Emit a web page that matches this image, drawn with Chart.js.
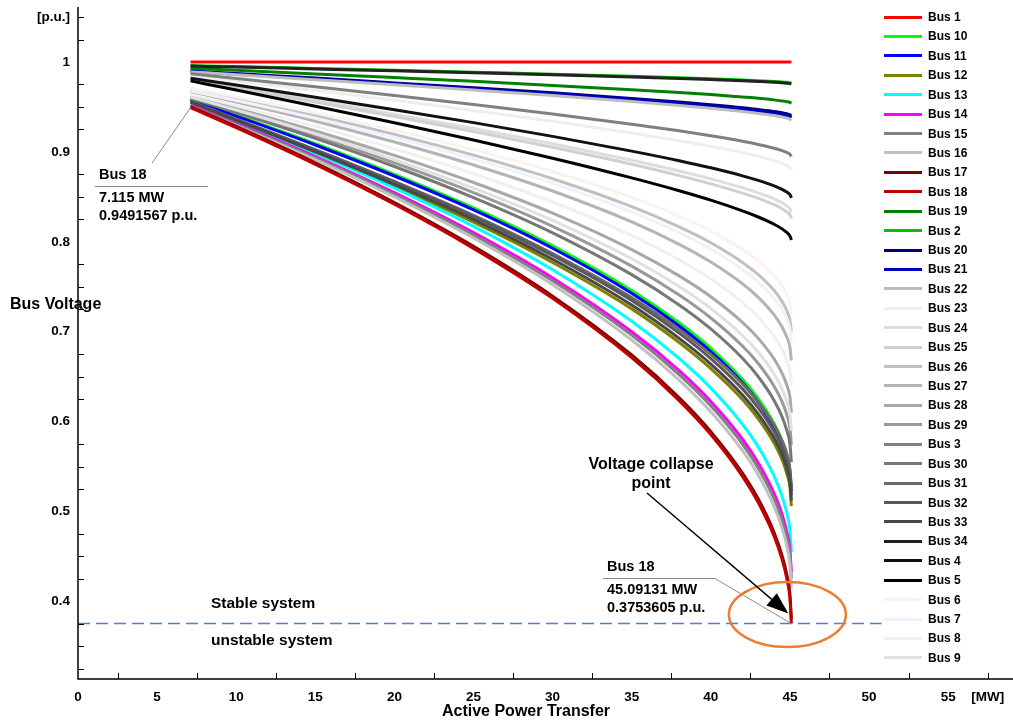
<!DOCTYPE html>
<html>
<head>
<meta charset="utf-8">
<title>Bus voltage vs active power transfer</title>
<script src="https://cdn.jsdelivr.net/npm/chart.js@4.4.1/dist/chart.umd.min.js"></script>
<style>
  html, body { margin: 0; padding: 0; background: #fff; }
  #wrap { position: relative; width: 1013px; height: 724px; font-family: 'Liberation Sans', Arial, sans-serif; }
  #legend { position: absolute; left: 0; top: 0; width: 0; height: 0; }
  .leg { position: absolute; left: 884px; height: 18px; display: flex; align-items: center;
         font-weight: bold; font-size: 12px; color: #000; white-space: nowrap; }
  .leg-line { width: 38px; height: 3px; margin-right: 6px; }
</style>
</head>
<body>
<div id="wrap">
  <canvas id="pv" width="1013" height="724"></canvas>
  <div id="legend"></div>
</div>
<script>
// load steps of the continuation run (MW)
var loads = [7.115, 10, 15, 20, 25, 30, 35, 38, 40, 42, 43, 44, 44.5, 44.8, 45, 45.09131];

// bus voltages (p.u.)
var bus1  = [1, 1, 1, 1, 1, 1, 1, 1, 1, 1, 1, 1, 1, 1, 1, 1];
var bus2  = [0.996, 0.9949, 0.9929, 0.9909, 0.9887, 0.9865, 0.9841, 0.9825, 0.9814, 0.9801, 0.9793, 0.9784, 0.9779, 0.9774, 0.977, 0.9765];
var bus3  = [0.987, 0.9817, 0.9724, 0.9628, 0.9528, 0.9423, 0.9309, 0.9235, 0.918, 0.9119, 0.9083, 0.9041, 0.9015, 0.8994, 0.8974, 0.895];
var bus4  = [0.982, 0.9744, 0.9609, 0.947, 0.9326, 0.9173, 0.9009, 0.8902, 0.8823, 0.8734, 0.8683, 0.8622, 0.8583, 0.8553, 0.8524, 0.849];
var bus5  = [0.979, 0.9688, 0.9509, 0.9324, 0.9132, 0.893, 0.8711, 0.8568, 0.8463, 0.8344, 0.8276, 0.8195, 0.8144, 0.8104, 0.8065, 0.802];
var bus6  = [0.971, 0.9613, 0.9434, 0.924, 0.9026, 0.8782, 0.8494, 0.8285, 0.8119, 0.7916, 0.7789, 0.7625, 0.7513, 0.742, 0.7323, 0.72];
var bus7  = [0.968, 0.9572, 0.9375, 0.916, 0.8922, 0.8652, 0.8333, 0.8101, 0.7918, 0.7693, 0.7552, 0.7371, 0.7247, 0.7143, 0.7036, 0.69];
var bus8  = [0.964, 0.9515, 0.9284, 0.9034, 0.8757, 0.8443, 0.807, 0.78, 0.7586, 0.7324, 0.716, 0.6949, 0.6804, 0.6684, 0.6559, 0.64];
var bus9  = [0.961, 0.9466, 0.9202, 0.8915, 0.8598, 0.8239, 0.7812, 0.7503, 0.7258, 0.6958, 0.6771, 0.6529, 0.6363, 0.6225, 0.6082, 0.59];
var bus10 = [0.9585, 0.9408, 0.9092, 0.8751, 0.8379, 0.7956, 0.7459, 0.7099, 0.6815, 0.647, 0.6254, 0.5978, 0.579, 0.5632, 0.5468, 0.526];
var bus11 = [0.958, 0.9399, 0.9077, 0.8732, 0.8355, 0.7928, 0.7427, 0.7064, 0.6778, 0.6432, 0.6215, 0.5939, 0.575, 0.5592, 0.5429, 0.522];
var bus12 = [0.955, 0.934, 0.8985, 0.8614, 0.8218, 0.777, 0.7254, 0.688, 0.659, 0.6245, 0.603, 0.5761, 0.5578, 0.5423, 0.5266, 0.506];
var bus13 = [0.953, 0.9337, 0.8983, 0.8598, 0.8172, 0.7689, 0.7117, 0.6702, 0.6373, 0.5971, 0.5719, 0.5394, 0.5171, 0.4986, 0.4794, 0.455];
var bus14 = [0.952, 0.9318, 0.8949, 0.8547, 0.8102, 0.7598, 0.7, 0.6567, 0.6224, 0.5804, 0.554, 0.5201, 0.4969, 0.4775, 0.4575, 0.432];
var bus15 = [0.951, 0.9307, 0.8933, 0.8526, 0.8076, 0.7566, 0.6962, 0.6523, 0.6176, 0.5751, 0.5484, 0.5142, 0.4906, 0.4711, 0.4508, 0.425];
var bus16 = [0.95, 0.9293, 0.8913, 0.8499, 0.8042, 0.7523, 0.6908, 0.6462, 0.6109, 0.5676, 0.5406, 0.5057, 0.4818, 0.4618, 0.4412, 0.415];
var bus17 = [0.9505, 0.9284, 0.8879, 0.8437, 0.795, 0.7396, 0.6741, 0.6265, 0.5889, 0.5428, 0.5139, 0.4767, 0.4512, 0.43, 0.408, 0.38];
var bus18 = [0.9491567, 0.927, 0.8862, 0.8418, 0.7927, 0.7371, 0.6711, 0.6233, 0.5855, 0.5391, 0.51, 0.4726, 0.447, 0.4256, 0.4035, 0.3753605];
var bus19 = [0.993, 0.9908, 0.9868, 0.9827, 0.9785, 0.974, 0.9692, 0.9661, 0.9638, 0.9611, 0.9597, 0.9579, 0.9567, 0.9559, 0.955, 0.954];
var bus20 = [0.99, 0.9871, 0.9821, 0.9768, 0.9714, 0.9657, 0.9595, 0.9555, 0.9525, 0.9492, 0.9472, 0.945, 0.9435, 0.9424, 0.9413, 0.94];
var bus21 = [0.9895, 0.9865, 0.9813, 0.9759, 0.9704, 0.9645, 0.9581, 0.9539, 0.9509, 0.9474, 0.9455, 0.9431, 0.9416, 0.9405, 0.9393, 0.938];
var bus22 = [0.989, 0.9859, 0.9804, 0.9748, 0.9689, 0.9628, 0.9561, 0.9517, 0.9485, 0.9449, 0.9428, 0.9404, 0.9388, 0.9376, 0.9364, 0.935];
var bus23 = [0.985, 0.979, 0.9683, 0.9574, 0.946, 0.934, 0.921, 0.9125, 0.9063, 0.8992, 0.8952, 0.8904, 0.8874, 0.885, 0.8827, 0.88];
var bus24 = [0.981, 0.9725, 0.9575, 0.942, 0.926, 0.9091, 0.8908, 0.8788, 0.87, 0.8601, 0.8544, 0.8477, 0.8434, 0.84, 0.8368, 0.833];
var bus25 = [0.98, 0.9712, 0.9556, 0.9395, 0.9227, 0.9051, 0.8862, 0.8736, 0.8645, 0.8542, 0.8483, 0.8413, 0.8368, 0.8333, 0.83, 0.826];
var bus26 = [0.97, 0.9595, 0.9403, 0.9195, 0.8964, 0.8702, 0.8392, 0.8167, 0.7989, 0.777, 0.7634, 0.7458, 0.7337, 0.7236, 0.7132, 0.7];
var bus27 = [0.967, 0.9554, 0.9342, 0.911, 0.8855, 0.8565, 0.8221, 0.7972, 0.7775, 0.7533, 0.7382, 0.7187, 0.7053, 0.6942, 0.6827, 0.668];
var bus28 = [0.962, 0.9484, 0.9233, 0.8961, 0.866, 0.8319, 0.7914, 0.7621, 0.7389, 0.7104, 0.6926, 0.6697, 0.6539, 0.6408, 0.6273, 0.61];
var bus29 = [0.96, 0.9451, 0.9176, 0.8878, 0.8548, 0.8173, 0.773, 0.7408, 0.7153, 0.6841, 0.6646, 0.6394, 0.6222, 0.6078, 0.5929, 0.574];
var bus30 = [0.9595, 0.9438, 0.9151, 0.8838, 0.8492, 0.81, 0.7635, 0.7298, 0.7031, 0.6704, 0.6499, 0.6236, 0.6055, 0.5904, 0.5748, 0.555];
var bus31 = [0.9565, 0.9364, 0.9025, 0.8671, 0.8294, 0.7869, 0.7379, 0.7023, 0.6748, 0.6421, 0.6217, 0.5963, 0.579, 0.5643, 0.546, 0.525];
var bus32 = [0.956, 0.9361, 0.9021, 0.8664, 0.8281, 0.7848, 0.7347, 0.6984, 0.6701, 0.6364, 0.6153, 0.5889, 0.5709, 0.5557, 0.54, 0.518];
var bus33 = [0.9555, 0.935, 0.9002, 0.8637, 0.8247, 0.7806, 0.7296, 0.6926, 0.664, 0.6297, 0.6084, 0.5817, 0.5635, 0.5481, 0.5324, 0.512];
var bus34 = [0.9955, 0.9944, 0.9923, 0.9902, 0.9881, 0.9858, 0.9833, 0.9817, 0.9805, 0.9792, 0.9784, 0.9775, 0.9769, 0.9764, 0.976, 0.9755];

// legend order (as plotted)
var busNames = ['Bus 1', 'Bus 10', 'Bus 11', 'Bus 12', 'Bus 13', 'Bus 14', 'Bus 15', 'Bus 16', 'Bus 17',
  'Bus 18', 'Bus 19', 'Bus 2', 'Bus 20', 'Bus 21', 'Bus 22', 'Bus 23', 'Bus 24', 'Bus 25', 'Bus 26',
  'Bus 27', 'Bus 28', 'Bus 29', 'Bus 3', 'Bus 30', 'Bus 31', 'Bus 32', 'Bus 33', 'Bus 34', 'Bus 4',
  'Bus 5', 'Bus 6', 'Bus 7', 'Bus 8', 'Bus 9'];
var busSeries = [bus1, bus10, bus11, bus12, bus13, bus14, bus15, bus16, bus17,
  bus18, bus19, bus2, bus20, bus21, bus22, bus23, bus24, bus25, bus26,
  bus27, bus28, bus29, bus3, bus30, bus31, bus32, bus33, bus34, bus4,
  bus5, bus6, bus7, bus8, bus9];
var busColors = ['#ff0000', '#00ff00', '#0000ff', '#808000', '#00ffff', '#ff00ff', '#808080', '#c0c0c0', '#800000',
  '#c00000', '#008000', '#00c000', '#000080', '#0000c0', '#bdbdbd', '#eeeeee', '#dddddd', '#d0d0d0', '#c0c0c0',
  '#b4b4b4', '#a8a8a8', '#999999', '#808080', '#777777', '#6a6a6a', '#5a5a5a', '#484848', '#222222', '#111111',
  '#000000', '#fff0f0', '#f0f0ff', '#f0f0f0', '#e0e0e0'];

// stability limit line
var limitVoltage = 0.3753605;
var limitSpan = [0, 50.8];

// axis ticks
var xLabelTicks = [0, 5, 10, 15, 20, 25, 30, 35, 40, 45, 50, 55, 57.5];
var yLabelTicks = [0.4, 0.5, 0.6, 0.7, 0.8, 0.9, 1, 1.05];

var FONT = "'Liberation Sans', Arial, sans-serif";

var datasets = busSeries.map(function (vals, i) {
  return {
    label: busNames[i],
    data: vals.map(function (v, k) { return { x: loads[k], y: v }; }),
    borderColor: busColors[i],
    borderWidth: 3,
    pointRadius: 0,
    fill: false,
    cubicInterpolationMode: 'monotone',
    order: busSeries.length - i + 1,
  };
});
datasets.push({
  label: 'limit',
  data: limitSpan.map(function (x) { return { x: x, y: limitVoltage }; }),
  borderColor: '#4a7fd4',
  borderWidth: 1.5,
  borderDash: [12, 6],
  pointRadius: 0,
  fill: false,
  order: 0,
});

// legend
var legend = document.getElementById('legend');
busNames.forEach(function (name, i) {
  var row = document.createElement('div');
  row.className = 'leg';
  row.style.top = (17 + i * 19.42 - 9) + 'px';
  row.innerHTML = '<span class="leg-line" style="background:' + busColors[i] + '"></span>' + name;
  legend.appendChild(row);
});

function text(ctx, s, x, y, size, align) {
  ctx.font = 'bold ' + size + 'px ' + FONT;
  ctx.fillStyle = '#000';
  ctx.textAlign = align || 'left';
  ctx.textBaseline = 'middle';
  ctx.fillText(s, x, y);
}

var decor = {
  id: 'decor',
  afterDatasetsDraw: function (chart) {
    var ctx = chart.ctx;
    var xs = chart.scales.x, ys = chart.scales.y;
    var area = chart.chartArea;
    ctx.save();

    // axes
    ctx.strokeStyle = '#000';
    ctx.lineWidth = 1.5;
    ctx.beginPath();
    ctx.moveTo(area.left, area.top);
    ctx.lineTo(area.left, area.bottom);
    ctx.lineTo(area.right, area.bottom);
    ctx.stroke();
    ctx.lineWidth = 1;
    ctx.beginPath();
    for (var t = 2.5; t < xs.max; t += 5) {
      var px = Math.round(xs.getPixelForValue(t)) + 0.5;
      ctx.moveTo(px, area.bottom);
      ctx.lineTo(px, area.bottom - 6);
    }
    for (var k = 13; k <= 42; k++) {
      if (k % 4 === 0) continue;
      var py = Math.round(ys.getPixelForValue(k * 0.025)) + 0.5;
      ctx.moveTo(area.left, py);
      ctx.lineTo(area.left + 6, py);
    }
    ctx.stroke();

    // data tips for Bus 18
    var p0 = { x: xs.getPixelForValue(loads[0]), y: ys.getPixelForValue(bus18[0]) };
    var last = loads.length - 1;
    var p1 = { x: xs.getPixelForValue(loads[last]), y: ys.getPixelForValue(bus18[last]) };
    ctx.strokeStyle = '#8a8a8a';
    ctx.lineWidth = 1;
    ctx.beginPath();
    ctx.moveTo(p0.x, p0.y);
    ctx.lineTo(152, 163);
    ctx.moveTo(95, 186.5);
    ctx.lineTo(208, 186.5);
    ctx.moveTo(603, 578.5);
    ctx.lineTo(715, 578.5);
    ctx.lineTo(p1.x, p1.y);
    ctx.stroke();
    text(ctx, 'Bus 18', 99, 175, 14.5);
    text(ctx, loads[0] + ' MW', 99, 198, 14.5);
    text(ctx, bus18[0] + ' p.u.', 99, 216, 14.5);
    text(ctx, 'Bus 18', 607, 567, 14.5);
    text(ctx, loads[last] + ' MW', 607, 590, 14.5);
    text(ctx, bus18[last] + ' p.u.', 607, 608, 14.5);

    // collapse point marker
    ctx.strokeStyle = '#ed7d31';
    ctx.lineWidth = 2.5;
    ctx.beginPath();
    ctx.ellipse(p1.x - 4, p1.y - 9, 58.5, 32.5, 0, 0, Math.PI * 2);
    ctx.stroke();

    // arrow
    var a0 = { x: 647, y: 493 }, a1 = { x: p1.x - 3, y: p1.y - 10 };
    var ang = Math.atan2(a1.y - a0.y, a1.x - a0.x);
    ctx.strokeStyle = '#000';
    ctx.fillStyle = '#000';
    ctx.lineWidth = 1.4;
    ctx.beginPath();
    ctx.moveTo(a0.x, a0.y);
    ctx.lineTo(a1.x - 18 * Math.cos(ang), a1.y - 18 * Math.sin(ang));
    ctx.stroke();
    ctx.beginPath();
    ctx.moveTo(a1.x, a1.y);
    ctx.lineTo(a1.x - 22 * Math.cos(ang) + 8 * Math.sin(ang), a1.y - 22 * Math.sin(ang) - 8 * Math.cos(ang));
    ctx.lineTo(a1.x - 22 * Math.cos(ang) - 8 * Math.sin(ang), a1.y - 22 * Math.sin(ang) + 8 * Math.cos(ang));
    ctx.closePath();
    ctx.fill();

    // labels
    text(ctx, 'Voltage collapse', 651, 465, 16, 'center');
    text(ctx, 'point', 651, 484, 16, 'center');
    text(ctx, 'Stable system', 211, 604, 15.5);
    text(ctx, 'unstable system', 211, 641, 15.5);
    text(ctx, 'Bus Voltage', 10, 305, 16);
    text(ctx, 'Active Power Transfer', 526, 712, 16, 'center');
    ctx.restore();
  },
};

new Chart(document.getElementById('pv'), {
  type: 'line',
  data: { datasets: datasets },
  options: {
    responsive: false,
    animation: false,
    layout: { padding: { top: 7, right: 0, left: 0, bottom: 0 } },
    plugins: { legend: { display: false }, tooltip: { enabled: false } },
    scales: {
      x: {
        type: 'linear',
        min: 0,
        max: 59.1,
        grid: { display: false, drawTicks: false },
        border: { display: false },
        afterBuildTicks: function (s) { s.ticks = xLabelTicks.map(function (v) { return { value: v }; }); },
        afterFit: function (s) { s.height = 45; s.paddingLeft = 0; s.paddingRight = 0; },
        ticks: {
          autoSkip: false, maxRotation: 0, padding: 10, color: '#000',
          font: { family: FONT, size: 13.5, weight: 'bold' },
          callback: function (v) { return v === 57.5 ? '[MW]' : String(v); },
        },
      },
      y: {
        min: 0.3137,
        max: 1.0612,
        grid: { display: false, drawTicks: false },
        border: { display: false },
        afterBuildTicks: function (s) { s.ticks = yLabelTicks.map(function (v) { return { value: v }; }); },
        afterFit: function (s) { s.width = 78; s.paddingTop = 0; s.paddingBottom = 0; },
        ticks: {
          autoSkip: false, padding: 8, color: '#000',
          font: { family: FONT, size: 13.5, weight: 'bold' },
          callback: function (v) { return v === 1.05 ? '[p.u.]' : String(+v.toFixed(2)); },
        },
      },
    },
  },
  plugins: [decor],
});
</script>
</body>
</html>
